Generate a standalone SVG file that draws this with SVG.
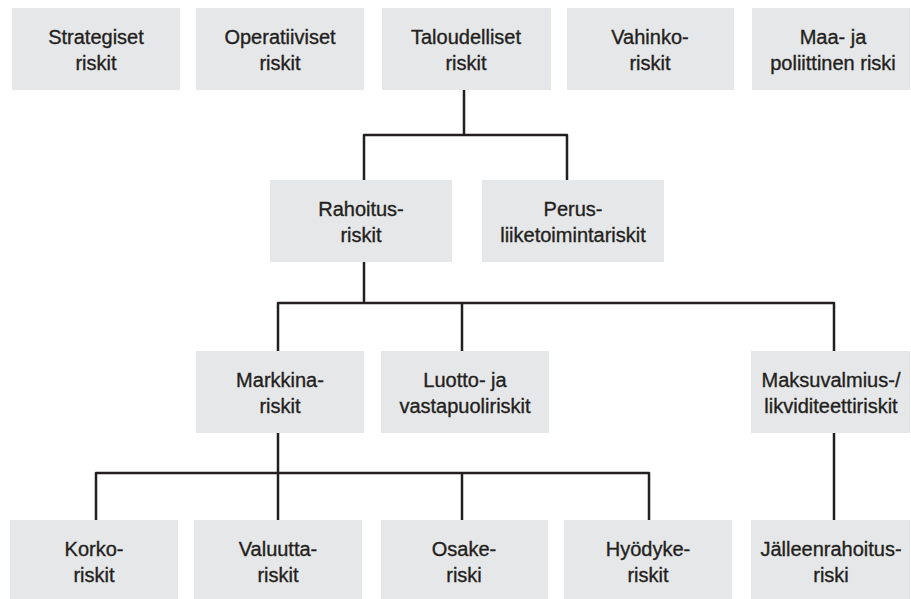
<svg xmlns="http://www.w3.org/2000/svg" width="911" height="599" viewBox="0 0 911 599">
<style>
.box{fill:#e6e7e8}
.t{font-family:"Liberation Sans",Arial,sans-serif;font-size:20px;fill:#231f20;stroke:#231f20;stroke-width:0.35;text-anchor:middle}
.c{fill:none;stroke:#231f20;stroke-width:2.5;stroke-linejoin:round}
</style>
<rect width="911" height="599" fill="#ffffff"/>
<g id="connectors">
<path class="c" d="M464 90 V135 M364 180 V135 H567 V180"/>
<path class="c" d="M364 262 V303 M278 351 V303 H834 V351 M462 303 V351"/>
<path class="c" d="M278 433 V520 M96 520 V473 H649 V520 M462 473 V520"/>
<path class="c" d="M834 433 V520"/>
</g>
<g id="strategiset"><rect class="box" x="12" y="8" width="168" height="82"/><text class="t" x="96" y="44">Strategiset</text><text class="t" x="96" y="70">riskit</text></g>
<g id="operatiiviset"><rect class="box" x="196" y="8" width="168" height="82"/><text class="t" x="280" y="44">Operatiiviset</text><text class="t" x="280" y="70">riskit</text></g>
<g id="taloudelliset"><rect class="box" x="382" y="8" width="169" height="82"/><text class="t" x="466" y="44">Taloudelliset</text><text class="t" x="466" y="70">riskit</text></g>
<g id="vahinko"><rect class="box" x="567" y="8" width="167" height="82"/><text class="t" x="650" y="44">Vahinko-</text><text class="t" x="650" y="70">riskit</text></g>
<g id="maa"><rect class="box" x="752" y="8" width="158" height="82"/><text class="t" x="833" y="44">Maa- ja</text><text class="t" x="833" y="70">poliittinen riski</text></g>
<g id="rahoitus"><rect class="box" x="270" y="180" width="182" height="82"/><text class="t" x="361" y="216">Rahoitus-</text><text class="t" x="361" y="242">riskit</text></g>
<g id="perus"><rect class="box" x="482" y="180" width="182" height="82"/><text class="t" x="573" y="216">Perus-</text><text class="t" x="573" y="242">liiketoimintariskit</text></g>
<g id="markkina"><rect class="box" x="196" y="351" width="168" height="82"/><text class="t" x="280" y="387">Markkina-</text><text class="t" x="280" y="413">riskit</text></g>
<g id="luotto"><rect class="box" x="381" y="351" width="168" height="82"/><text class="t" x="465" y="387">Luotto- ja</text><text class="t" x="465" y="413">vastapuoliriskit</text></g>
<g id="maksuvalmius"><rect class="box" x="751" y="351" width="159" height="82"/><text class="t" x="831" y="387">Maksuvalmius-/</text><text class="t" x="831" y="413">likviditeettiriskit</text></g>
<g id="korko"><rect class="box" x="10" y="520" width="168" height="82"/><text class="t" x="94" y="556">Korko-</text><text class="t" x="94" y="582">riskit</text></g>
<g id="valuutta"><rect class="box" x="194" y="520" width="168" height="82"/><text class="t" x="278" y="556">Valuutta-</text><text class="t" x="278" y="582">riskit</text></g>
<g id="osake"><rect class="box" x="381" y="520" width="167" height="82"/><text class="t" x="464" y="556">Osake-</text><text class="t" x="464" y="582">riski</text></g>
<g id="hyodyke"><rect class="box" x="564" y="520" width="168" height="82"/><text class="t" x="648" y="556">Hyödyke-</text><text class="t" x="648" y="582">riskit</text></g>
<g id="jalleenrahoitus"><rect class="box" x="751" y="520" width="159" height="82"/><text class="t" x="831" y="556">Jälleenrahoitus-</text><text class="t" x="831" y="582">riski</text></g>
</svg>
